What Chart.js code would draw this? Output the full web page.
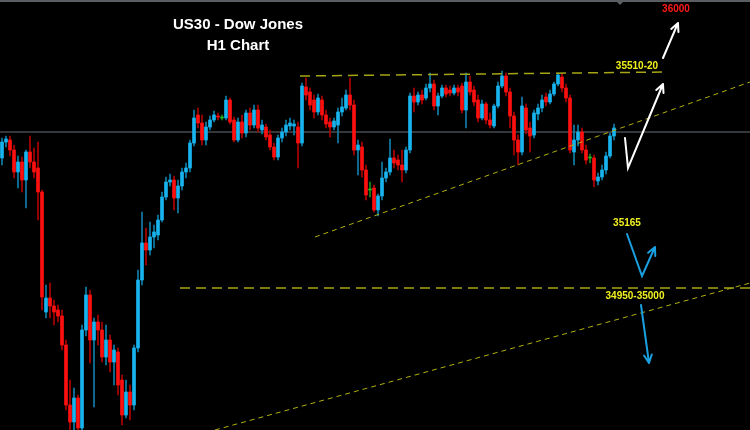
<!DOCTYPE html>
<html>
<head>
<meta charset="utf-8">
<script src="https://cdn.jsdelivr.net/npm/chart.js@4.4.0/dist/chart.umd.min.js"></script>
<style>
  html, body { margin: 0; padding: 0; background: #000; }
  #wrap { width: 750px; height: 430px; position: relative; }
</style>
</head>
<body>
<div id="wrap"><canvas id="chart"></canvas></div>
<script>
// US30 H1 candles, one per hour
const opens = [
  35305, 35345, 35350, 35325, 35270, 35295, 35250, 35320, 35295, 35280,
  35220, 34920, 34955, 34935, 34925, 34910, 34837.5, 34687.5, 34645, 34705,
  34630, 34875, 34962.5, 34850, 34895, 34875, 34807.5, 34850, 34795, 34820,
  34750, 34662.5, 34720, 34687.5, 34830, 35000, 35092.5, 35075, 35107.5, 35112.5,
  35150, 35207.5, 35245, 35250, 35205, 35235, 35270, 35280, 35342.5, 35412.5,
  35392.5, 35350, 35382.5, 35400, 35410, 35405, 35405, 35450, 35400, 35350,
  35395, 35367.5, 35417.5, 35387.5, 35425, 35375, 35382.5, 35362.5, 35332.5, 35307.5,
  35355, 35370, 35385, 35385, 35382.5, 35342.5, 35482.5, 35470, 35450, 35420,
  35450, 35412.5, 35395, 35382.5, 35387.5, 35420, 35430, 35462.5, 35437.5, 35325,
  35332.5, 35275, 35225, 35230, 35175, 35210, 35255, 35270, 35305, 35300,
  35287.5, 35275, 35325, 35460, 35445, 35462.5, 35455, 35480, 35490, 35435,
  35460, 35480, 35475, 35467.5, 35480, 35485, 35425, 35495, 35475, 35450,
  35405, 35440, 35400, 35385, 35435, 35485, 35510, 35470, 35410, 35350,
  35320, 35430, 35380, 35362.5, 35415, 35430, 35457.5, 35445, 35465, 35490,
  35507.5, 35480, 35455, 35320, 35350, 35370, 35325, 35305, 35305, 35247.5,
  35257.5, 35275, 35310, 35360
];
const highs = [
  35355, 35360, 35360, 35337.5, 35310, 35307.5, 35325, 35360, 35330, 35345,
  35225, 34987.5, 34992.5, 34950, 34937.5, 34925, 34850, 34750, 34730, 34712.5,
  34887.5, 34982.5, 34975, 34905, 34912.5, 34895, 34887.5, 34862.5, 34837.5, 34830,
  34762.5, 34750, 34737.5, 34837.5, 35025, 35170, 35130, 35145, 35137.5, 35162.5,
  35220, 35257.5, 35265, 35260, 35250, 35280, 35292.5, 35350, 35425, 35430,
  35412.5, 35395, 35410, 35422.5, 35417.5, 35412.5, 35460, 35455, 35407.5, 35405,
  35412.5, 35425, 35430, 35437.5, 35437.5, 35400, 35390, 35375, 35342.5, 35362.5,
  35380, 35400, 35405, 35400, 35395, 35492.5, 35505, 35480, 35462.5, 35465,
  35460, 35425, 35405, 35405, 35430, 35455, 35475, 35505, 35450, 35350,
  35345, 35287.5, 35245, 35237.5, 35215, 35295, 35280, 35352.5, 35325, 35312.5,
  35325, 35332.5, 35467.5, 35480, 35470, 35475, 35490, 35517.5, 35500, 35467.5,
  35487.5, 35487.5, 35485, 35487.5, 35487.5, 35492.5, 35517.5, 35510, 35485, 35462.5,
  35450, 35445, 35417.5, 35440, 35495, 35522.5, 35517.5, 35480, 35420, 35362.5,
  35457.5, 35440, 35395, 35425, 35440, 35462.5, 35467.5, 35475, 35495, 35517.5,
  35515, 35490, 35462.5, 35387.5, 35387.5, 35380, 35337.5, 35315, 35312.5, 35267.5,
  35287.5, 35320, 35367.5, 35390
];
const lows = [
  35287.5, 35332.5, 35310, 35255, 35230, 35220, 35180, 35280, 35255, 35150,
  34925, 34905, 34905, 34887.5, 34895, 34825, 34675, 34625, 34625, 34625,
  34625, 34860, 34792.5, 34682.5, 34837.5, 34795, 34787.5, 34770, 34737.5, 34712.5,
  34637.5, 34655, 34650, 34675, 34820, 34987.5, 35037.5, 35062.5, 35080, 35100,
  35145, 35200, 35235, 35175, 35167.5, 35225, 35255, 35270, 35335, 35380,
  35337.5, 35337.5, 35375, 35395, 35400, 35400, 35400, 35390, 35345, 35345,
  35355, 35357.5, 35375, 35380, 35370, 35365, 35350, 35325, 35300, 35300,
  35345, 35360, 35375, 35362.5, 35280, 35335, 35450, 35425, 35405, 35412.5,
  35400, 35380, 35357.5, 35375, 35342.5, 35410, 35425, 35425, 35312.5, 35262.5,
  35257.5, 35200, 35207.5, 35170, 35160, 35200, 35245, 35262.5, 35280, 35275,
  35245, 35267.5, 35317.5, 35420, 35437.5, 35440, 35450, 35470, 35425, 35412.5,
  35455, 35457.5, 35460, 35462.5, 35460, 35417.5, 35380, 35462.5, 35435, 35395,
  35400, 35390, 35380, 35380, 35430, 35480, 35460, 35380, 35312.5, 35287.5,
  35312.5, 35365, 35320, 35355, 35400, 35420, 35435, 35440, 35460, 35485,
  35470, 35445, 35317.5, 35287.5, 35335, 35317.5, 35290, 35292.5, 35232.5, 35237.5,
  35250, 35265, 35305, 35350
];
const closes = [
  35345, 35352.5, 35325, 35270, 35295, 35250, 35320, 35295, 35270, 35220,
  34957.5, 34955, 34935, 34920, 34910, 34837.5, 34687.5, 34645, 34705, 34630,
  34875, 34962.5, 34850, 34895, 34875, 34807.5, 34850, 34795, 34825, 34737.5,
  34662.5, 34720, 34687.5, 34830, 35000, 35092.5, 35075, 35107.5, 35120, 35150,
  35207.5, 35245, 35250, 35205, 35235, 35270, 35280, 35342.5, 35405, 35392.5,
  35350, 35382.5, 35400, 35412.5, 35407.5, 35405, 35450, 35395, 35350, 35395,
  35367.5, 35417.5, 35387.5, 35425, 35380, 35387.5, 35357.5, 35332.5, 35307.5, 35355,
  35370, 35387.5, 35392.5, 35390, 35342.5, 35485, 35462.5, 35437.5, 35420, 35455,
  35412.5, 35390, 35382.5, 35397.5, 35420, 35432.5, 35462.5, 35437.5, 35325, 35337.5,
  35275, 35212.5, 35225, 35175, 35210, 35255, 35270, 35305, 35292.5, 35287.5,
  35275, 35325, 35460, 35445, 35462.5, 35450, 35480, 35490, 35435, 35460,
  35480, 35465, 35467.5, 35480, 35470, 35425, 35495, 35470, 35445, 35405,
  35440, 35400, 35387.5, 35435, 35485, 35510, 35470, 35410, 35350, 35320,
  35435, 35375, 35360, 35417.5, 35430, 35450, 35445, 35465, 35490, 35512.5,
  35480, 35455, 35325, 35350, 35370, 35325, 35300, 35305, 35250, 35257.5,
  35275, 35310, 35360, 35380
];

// levels
const grayLevel = 35370;
const resistance = [[74.5, 35510], [165.75, 35520]];
const support = [[44.5, 34980], [187, 34980]];
const upperTrend = [[78.25, 35107.5], [187, 35495]];
const lowerTrend = [[53.25, 34625], [187, 34992.5]];

// text and arrows (x in candle units, y in price)
const notes = [
  { text: 'US30 - Dow Jones', x: 59, y: 35637.5, color: '#ffffff', font: 'bold 15px Arial' },
  { text: 'H1 Chart', x: 59, y: 35585, color: '#ffffff', font: 'bold 15px Arial' },
  { text: '36000', x: 168.5, y: 35677.5, color: '#ff1a1a', font: 'bold 10px Arial' },
  { text: '35510-20', x: 158.75, y: 35535, color: '#f0f020', font: 'bold 10px Arial' },
  { text: '35165', x: 156.25, y: 35142.5, color: '#f0f020', font: 'bold 10px Arial' },
  { text: '34950-35000', x: 158.25, y: 34960, color: '#f0f020', font: 'bold 10px Arial' }
];
const arrows = [
  { color: '#ffffff', pts: [[155.75, 35355], [156.5, 35280], [165.25, 35490]] },
  { color: '#ffffff', pts: [[165.25, 35555], [169, 35642.5]] },
  { color: '#1a9fe0', pts: [[156.25, 35115], [160, 35010], [163.25, 35082.5]] },
  { color: '#1a9fe0', pts: [[159.75, 34937.5], [161.75, 34792.5]] }
];

const idx = opens.map((_, i) => i);
const bodyColors = idx.map(i => closes[i] > opens[i] ? '#18b4f0' : (closes[i] < opens[i] ? '#ff1010' : '#20c020'));
const wickColors = idx.map(i => closes[i] > opens[i] ? '#0e7fab' : (closes[i] < opens[i] ? '#b00000' : '#18901a'));

function seg(points) {
  return points.map(p => ({ x: p[0], y: p[1] }));
}

const overlay = {
  id: 'overlay',
  afterDraw(chart) {
    const ctx = chart.ctx;
    const xs = chart.scales.x, ys = chart.scales.y;
    const area = chart.chartArea;
    ctx.save();
    // top frame line + small marker
    ctx.fillStyle = '#5a5e62';
    ctx.fillRect(area.left, area.top, area.right - area.left, 2);
    ctx.beginPath();
    ctx.moveTo(616, area.top + 1);
    ctx.lineTo(624, area.top + 1);
    ctx.lineTo(620, area.top + 5);
    ctx.closePath();
    ctx.fill();

    // arrows
    arrows.forEach(a => {
      const p = a.pts.map(q => [xs.getPixelForValue(q[0]), ys.getPixelForValue(q[1])]);
      ctx.strokeStyle = a.color;
      ctx.lineWidth = 2;
      ctx.lineCap = 'round';
      ctx.beginPath();
      ctx.moveTo(p[0][0], p[0][1]);
      for (let k = 1; k < p.length; k++) ctx.lineTo(p[k][0], p[k][1]);
      const e = p[p.length - 1], s = p[p.length - 2];
      const ang = Math.atan2(e[1] - s[1], e[0] - s[0]);
      const len = 9;
      ctx.moveTo(e[0], e[1]);
      ctx.lineTo(e[0] - len * Math.cos(ang - 0.45), e[1] - len * Math.sin(ang - 0.45));
      ctx.moveTo(e[0], e[1]);
      ctx.lineTo(e[0] - len * Math.cos(ang + 0.45), e[1] - len * Math.sin(ang + 0.45));
      ctx.stroke();
    });

    // labels
    ctx.textAlign = 'center';
    ctx.textBaseline = 'middle';
    notes.forEach(n => {
      ctx.font = n.font;
      ctx.fillStyle = n.color;
      ctx.fillText(n.text, xs.getPixelForValue(n.x), ys.getPixelForValue(n.y));
    });
    ctx.restore();
  }
};

const ctx = document.getElementById('chart').getContext('2d');
const chart = new Chart(ctx, {
  type: 'bar',
  data: {
    datasets: [
      {
        label: 'wicks',
        data: idx.map(i => ({ x: i, y: [lows[i], highs[i]] })),
        backgroundColor: wickColors,
        barThickness: 1,
        grouped: false,
        order: 3
      },
      {
        label: 'bodies',
        data: idx.map(i => ({ x: i, y: [opens[i], closes[i]] })),
        backgroundColor: bodyColors,
        barThickness: 3,
        minBarLength: 1,
        grouped: false,
        order: 2
      },
      {
        type: 'line', label: 'gray',
        data: seg([[-0.5, grayLevel], [187, grayLevel]]),
        borderColor: '#6b7075', borderWidth: 1, pointRadius: 0, order: 4
      },
      {
        type: 'line', label: 'resistance',
        data: seg(resistance),
        borderColor: '#a6a614', borderWidth: 1.5, borderDash: [10, 6], pointRadius: 0, order: 1
      },
      {
        type: 'line', label: 'support',
        data: seg(support),
        borderColor: '#a6a614', borderWidth: 1.5, borderDash: [10, 6], pointRadius: 0, order: 1
      },
      {
        type: 'line', label: 'upper trend',
        data: seg(upperTrend),
        borderColor: '#b0b010', borderWidth: 1, borderDash: [5, 4], pointRadius: 0, order: 1
      },
      {
        type: 'line', label: 'lower trend',
        data: seg(lowerTrend),
        borderColor: '#b0b010', borderWidth: 1, borderDash: [5, 4], pointRadius: 0, order: 1
      }
    ]
  },
  options: {
    responsive: true,
    maintainAspectRatio: false,
    animation: false,
    layout: { padding: 0 },
    plugins: {
      legend: { display: false },
      tooltip: { enabled: false }
    },
    scales: {
      x: { type: 'linear', min: -0.5, max: 187, display: false, offset: false },
      y: { min: 34625, max: 35700, display: false }
    }
  },
  plugins: [overlay]
});
</script>
</body>
</html>
